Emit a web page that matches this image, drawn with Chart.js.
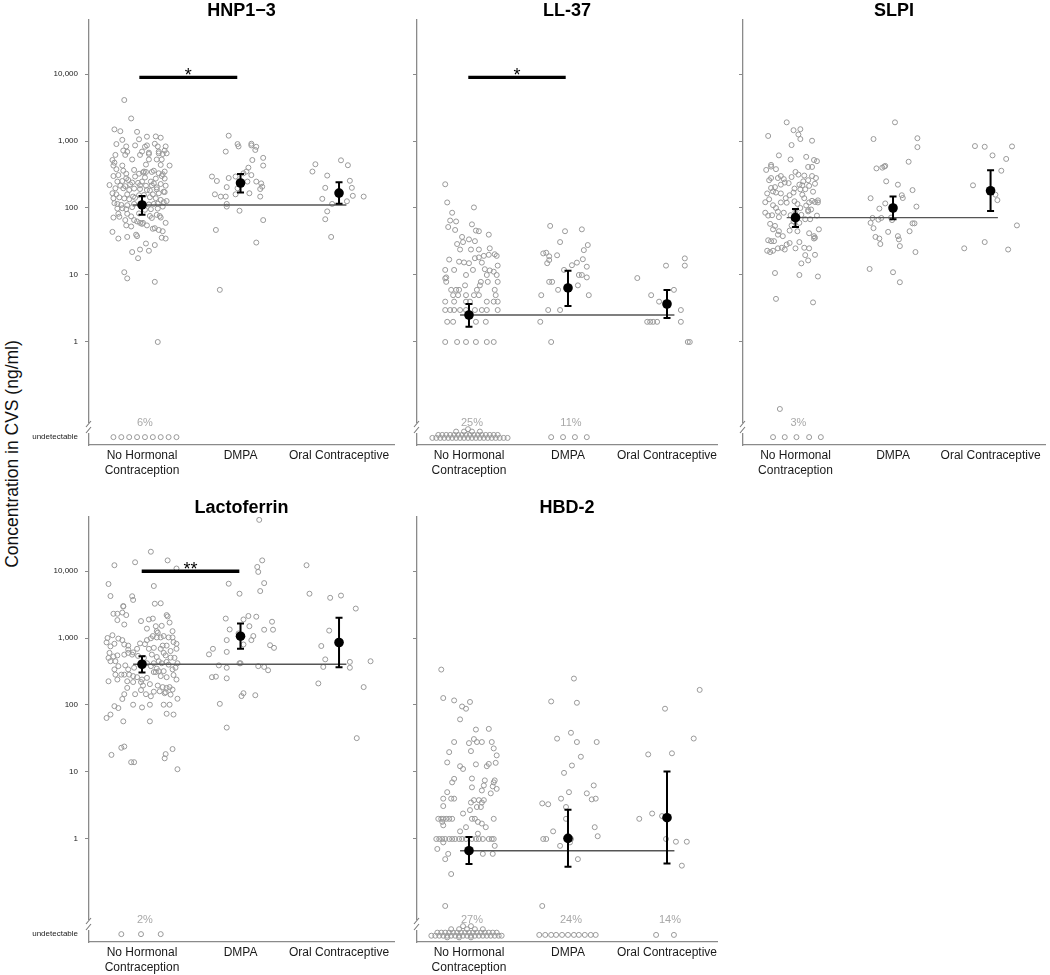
<!DOCTYPE html>
<html>
<head>
<meta charset="utf-8">
<script src="https://cdn.jsdelivr.net/npm/chart.js@4.4.1/dist/chart.umd.min.js"></script>
<style>
  html, body { margin: 0; padding: 0; background: #fff; overflow: hidden; }
  #wrap { position: relative; width: 1050px; height: 975px; }
  #wrap canvas { position: absolute; }
  #ytitle {
    position: absolute; left: 12px; top: 454px;
    transform: translate(-50%, -50%) rotate(-90deg);
    font: 17.5px Arial, "Liberation Sans", sans-serif; color: #111; white-space: nowrap;
  }
</style>
</head>
<body>
<div id="wrap">
  <div id="ytitle">Concentration in CVS (ng/ml)</div>
  <canvas id="c1" width="395" height="480" style="left:19px;top:0px"></canvas>
  <canvas id="c2" width="390" height="480" style="left:347px;top:0px"></canvas>
  <canvas id="c3" width="377" height="480" style="left:673px;top:0px"></canvas>
  <canvas id="c4" width="395" height="480" style="left:19px;top:497px"></canvas>
  <canvas id="c5" width="390" height="480" style="left:347px;top:497px"></canvas>
</div>
<script>
const FONT = "Arial, 'Liberation Sans', Helvetica, sans-serif";

// shared axis text
const categories = [['No Hormonal', 'Contraception'], 'DMPA', 'Oral Contraceptive'];
const UNDET = 0.038;
const tickValues = [UNDET, 1, 10, 100, 1000, 10000];
const tickLabels = ['undetectable', '1', '10', '100', '1,000', '10,000'];

// points are [offset from category centre, concentration ng/ml]
// ---- HNP1-3
const hnpNone = [[-0.18,4090],[-0.11,2170],[-0.28,1490],[-0.22,1400],[-0.05,1370],[-0.20,1040],[0.05,1160],[0.14,1170],[0.19,1120],[-0.03,1060],
  [-0.26,900],[-0.16,830],[-0.07,860],[0.03,820],[0.05,860],[0.13,910],[0.16,830],[0.24,830],
  [-0.19,720],[-0.15,690],[0.00,695],[0.07,670],[0.17,695],[0.23,720],
  [-0.27,620],[-0.17,620],[-0.02,620],[0.07,640],[0.17,655],[0.21,640],[0.25,655],
  [-0.30,520],[-0.10,530],[0.07,530],[0.15,530],[0.20,530],
  [-0.29,430],[-0.28,475],[-0.20,430],[0.04,445],[0.19,440],[0.28,430],
  [-0.26,380],[-0.19,360],[-0.08,370],[0.02,350],[0.12,360],
  [-0.29,300],[-0.24,310],[-0.16,325],[-0.03,325],[0.01,340],[0.04,345],[0.10,345],[0.17,330],[0.21,320],[0.23,350],
  [-0.16,278],[-0.07,295],[0.03,285],[0.14,275],[0.20,300],[0.23,275],
  [-0.25,248],[-0.20,253],[-0.14,262],[-0.10,240],[-0.04,237],[0.00,248],[0.09,248],[0.12,233],[0.19,228],
  [-0.33,220],[-0.22,215],[-0.17,212],[-0.12,225],[-0.02,218],[0.04,215],[0.10,218],[0.15,203],[0.24,215],
  [-0.27,197],[-0.19,197],[-0.13,186],[-0.08,195],[-0.02,192],[0.05,186],[0.08,182],[0.15,190],[0.22,175],
  [-0.30,166],[-0.26,160],[-0.15,160],[-0.09,148],[-0.03,155],[0.02,156],[0.11,160],[0.17,166],[0.23,173],
  [-0.29,140],[-0.23,144],[-0.18,139],[-0.13,135],[-0.07,142],[0.08,145],[0.14,140],[0.19,132],[0.25,127],
  [-0.28,118],[-0.25,115],[-0.21,111],[-0.15,110],[-0.08,115],[0.07,113],[0.12,115],[0.16,116],[0.22,122],
  [-0.25,98],[-0.20,99],[-0.16,96],[-0.10,103],[0.03,94],[0.09,96],[0.16,98],[0.21,105],
  [-0.24,82],[-0.23,74],[-0.15,82],[-0.11,75],[-0.03,83],[0.08,76],[0.15,79],[0.18,76],
  [-0.29,72],[-0.17,66],[-0.08,66],[-0.05,63],[0.01,60],[0.10,71],[0.19,72],[0.24,60],
  [-0.16,55],[-0.11,53],[-0.02,60],[0.00,58],[0.05,55],[0.11,49],[0.17,47],[0.21,45],
  [-0.30,44],[-0.24,35],[-0.15,37],[-0.06,40],[-0.05,38],[0.20,36],[0.24,35],[0.13,50],
  [0.04,29.5],[0.13,28],[-0.10,22],[-0.02,24],[0.07,23],[-0.04,17.8],
  [-0.18,11],[-0.15,8.9],[0.13,7.9],[0.16,1],
  [-0.29,0.038],[-0.21,0.038],[-0.13,0.038],[-0.05,0.038],[0.03,0.038],[0.11,0.038],[0.19,0.038],[0.27,0.038],[0.35,0.038]];
const hnpDmpa = [[-0.12,1200],[-0.03,900],[-0.02,830],[0.11,910],[0.11,860],[0.16,820],[-0.15,695],[0.15,735],[0.23,560],[0.12,520],
  [0.23,430],[0.08,400],[0.06,350],[0.03,330],[-0.05,295],[0.11,310],[-0.29,295],[-0.24,253],[-0.12,280],
  [0.07,248],[0.16,248],[0.21,233],[-0.14,205],[-0.03,197],[0.22,208],[-0.26,160],[-0.20,148],[-0.15,148],[-0.05,160],
  [0.09,166],[0.20,192],[0.20,148],[-0.14,115],[-0.14,105],[-0.01,91],[0.23,66],[-0.25,47],[0.16,30.5],[-0.21,6.0]];
const hnpOral = [[-0.24,450],[0.02,515],[0.09,435],[-0.27,350],[-0.12,305],[0.11,255],[-0.14,200],[0.13,200],[-0.17,137],
  [-0.07,115],[0.14,152],[0.25,148],[0.08,126],[-0.12,89],[-0.14,68],[-0.08,37]];
const hnpMean = [111, 236, 167];
const hnpLow = [79, 171, 116];
const hnpHigh = [151, 322, 242];
const hnpPct = ['6%', '', ''];
const hnpSig = [0.973, 1.967, 8900, '*'];

// ---- LL-37
const llNone = [[-0.24,226],[-0.22,121],[0.05,102],[-0.17,85],[-0.19,65],[-0.13,63],[-0.21,52],[-0.14,47],[0.03,57],[0.07,46],[0.10,45],[0.20,40],
  [-0.07,37],[0,34],[0.06,32],[-0.12,29],[-0.06,31],[-0.09,24],[0.02,24],[0.10,24],[0.21,25],[0.15,19.3],[0.20,20],[0.26,20.4],[0.28,19.3],
  [-0.20,17],[0.06,17.8],[-0.10,15.8],[-0.05,15.4],[0,15],[0.10,18.3],[0.13,15.3],[-0.24,11.9],[-0.15,11.9],[-0.24,8.9],[-0.23,9.2],[-0.23,7.9],
  [0.16,12.2],[0.18,10],[0.21,11.7],[0.28,10],[0.25,11.2],[0.29,13.8],[-0.03,10],[0.04,11.9],[0.19,7.9],[0.29,7.9],[0.12,7.9],
  [-0.18,6],[-0.10,6],[-0.13,6],[0.11,7],[0.08,6],[0.26,6],[-0.04,7],
  [-0.16,5],[-0.11,5],[-0.03,5],[0.05,5],[0.10,5],[0.27,5],
  [-0.24,4],[-0.15,4],[-0.03,4],[0.01,4],[0.18,4],[0.25,4],[0.29,4],
  [-0.24,3],[-0.19,3],[-0.15,3],[-0.09,3],[-0.03,3],[0.06,3],[0.13,3],[0.18,3],[0.29,3],
  [-0.22,2],[-0.16,2],[0.07,2],[0.17,2],
  [-0.24,1],[-0.12,1],[-0.03,1],[0.07,1],[0.18,1],[0.25,1],
  [-0.37,0.037],[-0.33,0.037],[-0.29,0.037],[-0.25,0.037],[-0.21,0.037],[-0.17,0.037],[-0.13,0.037],[-0.09,0.037],[-0.05,0.037],[-0.01,0.037],
  [0.03,0.037],[0.07,0.037],[0.11,0.037],[0.15,0.037],[0.19,0.037],[0.23,0.037],[0.27,0.037],[0.31,0.037],[0.35,0.037],[0.39,0.037],
  [-0.31,0.041],[-0.27,0.041],[-0.23,0.041],[-0.19,0.041],[-0.15,0.041],[-0.11,0.041],[-0.07,0.041],[-0.03,0.041],
  [0.01,0.041],[0.05,0.041],[0.09,0.041],[0.13,0.041],[0.17,0.041],[0.21,0.041],[0.25,0.041],[0.29,0.041],
  [-0.13,0.046],[-0.05,0.046],[0.03,0.046],[0.11,0.046],[-0.01,0.05]];
const llDmpa = [[-0.18,54],[-0.03,45],[0.14,48],[-0.08,31],[0.20,28],[-0.25,21],[-0.22,21.5],[-0.19,19],[-0.11,19.7],[0.16,23.5],
  [-0.21,15],[-0.19,16.7],[0.04,14],[-0.04,11.9],[0.09,15.3],[0.15,17.2],[0.19,13.3],[0.11,10],[0.14,10],[0.19,9.2],
  [-0.19,7.9],[-0.16,7.9],[0.10,7],[-0.10,6],[-0.27,5],[0.21,5],[-0.20,3],[-0.08,3],[-0.28,2],[-0.17,1],
  [-0.17,0.038],[-0.05,0.038],[0.07,0.038],[0.19,0.038]];
const llOral = [[0.18,17.7],[-0.01,13.8],[0.18,13.8],[-0.30,9],[0.07,6],[-0.16,5],[-0.08,4],[0.14,3],
  [-0.20,2],[-0.17,2],[-0.14,2],[-0.10,2],[0.14,2],[0.21,1],[0.23,1]];
const llMean = [2.53, 6.4, 3.69];
const llLow = [1.69, 3.45, 2.28];
const llHigh = [3.69, 11.6, 5.97];
const llPct = ['25%', '11%', ''];
const llSig = [0.993, 1.977, 8900, '*'];

// ---- SLPI
const slpiNone = [[-0.09,1900],[-0.02,1450],[0.05,1500],[0.03,1250],[0.05,1070],[-0.28,1190],[0.17,1010],[-0.04,870],[-0.17,610],
  [0.11,580],[0.19,520],[0.22,500],[-0.05,530],[-0.25,440],[-0.25,415],[0.13,410],[0.17,410],[-0.30,370],[-0.20,380],
  [0,345],[0.03,315],[0.09,305],[0.17,300],[0.21,280],[-0.25,280],[-0.18,280],[-0.15,300],[-0.04,290],[0.13,260],
  [-0.11,240],[-0.07,235],[-0.15,223],[-0.25,199],[-0.21,205],[0.04,223],[0.07,218],[0.14,214],[0.20,230],[0.10,190],[0.05,190],[-0.01,195],
  [-0.29,165],[-0.23,177],[-0.20,170],[-0.15,165],[-0.06,155],[0.07,158],[0.17,128],[0.20,123],[0.23,130],[0.23,121],[0.14,121],
  [-0.31,122],[-0.23,110],[-0.15,121],[-0.09,120],[-0.01,126],[0.02,115],[0.11,109],[0.13,93],[0.05,100],[-0.20,100],
  [-0.31,85],[-0.28,77],[-0.24,78],[-0.18,88],[-0.17,73],[-0.05,78],[0,89],[0.06,79],[0.13,89],[0.22,77],
  [-0.02,63],[0.04,60],[0.15,68],[-0.26,58],[-0.21,54],[-0.06,46],[-0.17,45],[-0.18,40],[-0.13,38],[0.14,42],[0.19,38],[0.24,48],[0.20,36],[0.19,35],
  [-0.28,33],[-0.25,32],[-0.22,32],[-0.06,30],[-0.09,28.5],[0.04,31],[-0.18,25],[-0.14,25.5],[-0.11,24],[0,25],[0.09,25.5],[0.14,25],[0.20,20],
  [-0.29,23],[-0.26,22],[-0.23,23],[0.10,19.8],[0.06,14.9],[0.13,16.5],[0.04,10],[0.23,9.5],[-0.21,10.7],[-0.20,4.4],[0.18,3.9],[-0.16,0.1],
  [-0.27,260],[-0.12,270],[0.08,250],[0.18,175],[-0.02,170],[-0.10,140],[0.09,140],[-0.27,135],[0.16,95],[-0.12,85],[0.10,68],[-0.04,55],[0.02,45],[-0.23,48],
  [-0.23,0.038],[-0.11,0.038],[0.01,0.038],[0.14,0.038],[0.26,0.038]];
const slpiDmpa = [[0.02,1900],[-0.20,1070],[0.25,1100],[0.25,810],[0.16,490],[-0.17,390],[-0.11,400],[-0.09,415],[-0.08,425],[-0.07,250],
  [0.05,223],[0.09,155],[0.10,141],[0.20,185],[-0.23,140],[-0.08,117],[-0.14,98],[-0.21,71],[-0.23,60],[-0.20,50],[-0.15,67],[-0.12,71],
  [-0.01,66],[-0.02,72],[0.24,105],[0.20,59],[0.22,59],[0.17,45],[-0.05,44],[-0.18,37],[-0.14,35],[-0.13,29],[0.05,38],[0.06,34],[0.07,27],
  [0.23,22],[-0.24,12.3],[0,11],[0.07,7.8]];
const slpiOral = [[-0.16,840],[-0.06,820],[0.22,830],[0.02,610],[0.16,540],[0.11,360],[-0.18,218],[0.05,158],[0.07,131],[0.27,55],
  [-0.06,31],[-0.27,25],[0.18,24]];
const slpiMean = [71.8, 100, 181];
const slpiLow = [52, 67.7, 90];
const slpiHigh = [96.6, 149, 365];
const slpiPct = ['3%', '', ''];

// ---- Lactoferrin
const lacNone = [[-0.28,12200],[-0.07,13500],[0.09,19400],[0.26,14400],[0.35,10900],[-0.34,6400],[-0.32,4230],[0.12,5970],[-0.10,4200],[-0.09,3700],
  [-0.19,3000],[-0.19,2950],[0.13,3250],[0.19,3300],
  [-0.29,2300],[-0.25,2300],[-0.20,2400],[-0.16,2200],[-0.25,1850],[-0.18,1590],[-0.01,1790],[0.07,1890],[0.11,1950],[0.25,2200],[0.26,2100],
  [0.05,1380],[0.14,1500],[0.16,1200],[0.20,1520],[0.28,1700],[0.31,1265],[0.15,1265],
  [-0.35,1000],[-0.30,1100],[-0.24,980],[-0.20,930],[-0.36,860],[-0.32,750],[-0.28,820],[-0.18,800],[-0.14,770],
  [-0.02,830],[0.03,810],[0.05,930],[0.09,990],[0.11,1070],[0.15,1020],[0.19,1020],[0.22,1070],[0.27,1020],[0.31,1020],[0.32,870],[0.35,820],
  [0.07,690],[0.12,713],[0.19,690],[0.21,770],[0.25,770],[0.29,640],[0.35,690],[0.22,600],[-0.05,690],[-0.09,610],[-0.14,670],[-0.04,540],
  [-0.33,600],[-0.34,505],[-0.29,530],[-0.25,550],[-0.32,450],[-0.27,450],[-0.18,565],[-0.14,600],[-0.10,565],
  [0.02,505],[0.10,566],[0.15,520],[0.17,450],[0.24,550],[0.29,510],[0.33,505],[0.36,420],[0.05,420],[0.12,420],[0.20,420],[0.25,440],[0.27,400],
  [-0.24,380],[-0.28,340],[-0.17,390],[-0.14,340],[-0.08,360],[0.09,380],[0.15,350],[0.17,320],[0.22,320],[0.31,340],[0.34,360],
  [0.19,270],[0.14,310],[0.25,260],[0.35,240],[0.32,280],
  [-0.34,226],[-0.27,284],[-0.25,240],[-0.21,284],[-0.18,284],[-0.13,284],[-0.09,270],[-0.05,260],[0,240],[0.05,254],[0.12,310],
  [-0.15,226],[-0.09,220],[-0.01,220],[0.01,195],[0.08,205],[0.16,195],[0.21,185],[0.25,180],[0.28,185],[0.31,170],[0.29,143],[0.24,155],[0.18,160],
  [-0.15,180],[-0.18,145],[-0.07,145],[-0.01,167],[0.04,145],[0.09,135],[0.12,158],[0.23,150],[0.36,124],
  [-0.20,123],[-0.09,101],[0,92],[0.08,101],[0.22,101],[0.28,101],[-0.28,96],[-0.24,90],[0.25,74],[0.32,72],[-0.19,57],[0.08,57],[-0.36,64],[-0.32,72],
  [-0.21,23],[-0.18,24],[-0.31,18],[-0.11,14],[-0.08,14],[0.24,18.5],[0.23,16],[0.31,22],[0.36,11],
  [-0.21,0.038],[-0.01,0.038],[0.19,0.038]];
const lacDmpa = [[0.19,58000],[0.22,14400],[0.17,11500],[0.18,9700],[0.24,6600],[0.20,5020],[-0.12,6460],[-0.01,4580],[-0.15,1950],[0.08,2130],
  [0.16,2080],[0.03,1890],[0.32,1750],[-0.11,1340],[-0.02,1170],[0.09,1500],[0.24,1330],[0.33,1330],[0.13,1070],[-0.14,930],[0.11,930],
  [0.03,800],[0.30,780],[0.34,713],[-0.32,570],[-0.28,690],[-0.14,620],[-0.01,420],[0.00,420],[-0.22,390],[-0.29,260],[-0.25,265],
  [-0.14,360],[-0.14,250],[0.18,380],[0.24,370],[0.28,330],[0.01,136],[0.03,150],[0.15,140],[-0.21,104],[-0.14,46]];
const lacOral = [[-0.33,12200],[-0.30,4580],[-0.09,3980],[0.02,4300],[0.17,2750],[-0.10,1290],[-0.18,760],[-0.14,480],[-0.16,370],
  [-0.21,210],[0.11,440],[0.11,360],[0.32,450],[0.25,185],[0.18,32]];
const lacMean = [406, 1064, 857];
const lacLow = [305, 689, 366];
const lacHigh = [535, 1648, 2004];
const lacPct = ['2%', '', ''];
const lacSig = [0.997, 1.988, 9900, '**'];

// ---- HBD-2
const hbdNone = [[-0.28,338],[-0.26,127],[-0.15,117],[0.01,111],[-0.07,95],[-0.03,88],[-0.09,61],[0.07,43],[0.20,44],
  [-0.15,28],[0,27],[0.05,31],[0.08,28],[0.13,28],[0.23,28],[0.25,22.5],[0.28,17.7],
  [-0.20,19.8],[0.02,20.5],[-0.22,13.9],[-0.09,12.2],[-0.06,11.1],[0.07,13],[0.18,12.2],[0.20,13.2],[0.27,13.7],
  [-0.17,7],[-0.15,7.9],[0.03,8],[0.16,7.5],[0.26,7.5],[0.25,7],[0.28,5.6],[0.24,6.1],[0.22,4.8],[0.15,6.3],[0.13,5.3],[0.03,5.9],
  [-0.22,5],[-0.26,4],[-0.18,4],[-0.15,4],[-0.26,3.1],[-0.06,2.4],[0.02,3.5],[0.05,3.8],[0.10,3.8],[0.13,3.5],[0.08,3],[0.12,3],[0.01,2.7],[0.15,3.8],
  [-0.31,2],[-0.28,2],[-0.26,2],[-0.23,2],[-0.20,2],[-0.17,2],[-0.27,1.8],[-0.26,1.6],[0.03,2],[0.06,2],[0.09,1.8],[0.25,2],[0.13,1.7],
  [0.17,1.5],[-0.09,1.3],[-0.03,1.5],[0.09,1.2],
  [-0.33,1],[-0.30,1],[-0.27,1],[-0.24,1],[-0.20,1],[-0.17,1],[-0.14,1],[-0.10,1],[-0.07,1],[-0.03,1],[0.03,1],[0.07,1],[0.10,1],[0.14,1],[0.20,1],[0.23,1],[0.25,1],
  [-0.32,0.71],[-0.26,0.89],[-0.21,0.6],[-0.24,0.5],[0.14,0.6],[0.24,0.6],[0.26,0.79],[-0.18,0.3],[-0.24,0.1],
  [-0.38,0.036],[-0.34,0.036],[-0.30,0.036],[-0.26,0.036],[-0.22,0.036],[-0.18,0.036],[-0.14,0.036],[-0.10,0.036],[-0.06,0.036],[-0.02,0.036],
  [0.02,0.036],[0.06,0.036],[0.10,0.036],[0.14,0.036],[0.18,0.036],[0.22,0.036],[0.26,0.036],[0.30,0.036],[0.33,0.036],
  [-0.32,0.040],[-0.28,0.040],[-0.24,0.040],[-0.20,0.040],[-0.16,0.040],[-0.12,0.040],[-0.08,0.040],[-0.04,0.040],
  [0,0.040],[0.04,0.040],[0.08,0.040],[0.12,0.040],[0.16,0.040],[0.20,0.040],[0.24,0.040],[0.28,0.040],
  [-0.18,0.045],[-0.10,0.045],[-0.02,0.045],[0.06,0.045],[0.14,0.045],[-0.06,0.050],[0.02,0.050],
  [-0.22,0.034],[-0.10,0.034],[0.02,0.034]];
const hbdDmpa = [[0.06,248],[-0.17,113],[0.09,108],[0.03,38.5],[-0.11,31.5],[0.09,28],[0.29,28],[0.13,16.9],[0.04,12.5],[-0.04,9.7],
  [0.01,5],[0.26,6.3],[0.19,4.8],[0.24,3.9],[0.28,4],[-0.07,4],[-0.26,3.4],[-0.20,3.3],[-0.02,3],[-0.02,2],[-0.15,1.3],[0.27,1.5],
  [0.30,1.1],[-0.25,1],[-0.22,1],[0.03,1],[-0.08,0.79],[0.02,0.89],[0.10,0.5],[-0.26,0.1],
  [-0.29,0.037],[-0.23,0.037],[-0.17,0.037],[-0.12,0.037],[-0.06,0.037],[0,0.037],[0.06,0.037],[0.11,0.037],[0.17,0.037],[0.23,0.037],[0.28,0.037]];
const hbdOral = [[0.33,168],[-0.02,88],[0.27,31.6],[-0.19,18.3],[0.05,19],[-0.15,2.4],[-0.28,2],[-0.05,2.2],[-0.01,1],[0.09,0.91],
  [0.20,0.91],[0.15,0.4],[-0.11,0.037],[0.07,0.037]];
const hbdMean = [0.669, 1.02, 2.08];
const hbdLow = [0.423, 0.386, 0.432];
const hbdHigh = [1.07, 2.72, 10.2];
const hbdPct = ['27%', '24%', '14%'];

const panels = [
  { id: 'c1', title: 'HNP1\u22123', groups: [hnpNone, hnpDmpa, hnpOral], mean: hnpMean, low: hnpLow, high: hnpHigh, pct: hnpPct, sig: hnpSig, labels: true, xMin: 0.462, xMax: 3.558, padR: 20 },
  { id: 'c2', title: 'LL-37', groups: [llNone, llDmpa, llOral], mean: llMean, low: llLow, high: llHigh, pct: llPct, sig: llSig, labels: false, xMin: 0.475, xMax: 3.505, padR: 20 },
  { id: 'c3', title: 'SLPI', groups: [slpiNone, slpiDmpa, slpiOral], mean: slpiMean, low: slpiLow, high: slpiHigh, pct: slpiPct, sig: null, labels: false, xMin: 0.462, xMax: 3.558, padR: 2 },
  { id: 'c4', title: 'Lactoferrin', groups: [lacNone, lacDmpa, lacOral], mean: lacMean, low: lacLow, high: lacHigh, pct: lacPct, sig: lacSig, labels: true, xMin: 0.462, xMax: 3.558, padR: 20 },
  { id: 'c5', title: 'HBD-2', groups: [hbdNone, hbdDmpa, hbdOral], mean: hbdMean, low: hbdLow, high: hbdHigh, pct: hbdPct, sig: null, labels: false, xMin: 0.475, xMax: 3.505, padR: 20 },
];

// error bars, stars, percentages and the axis break
function extras(p) {
  return {
    id: 'extras',
    afterDatasetsDraw(chart) {
      const { ctx, chartArea } = chart;
      const xs = chart.scales.x, ys = chart.scales.y;
      ctx.save();

      ctx.strokeStyle = '#000';
      ctx.lineWidth = 2;
      p.low.forEach((lo, i) => {
        const px = xs.getPixelForValue(i + 1);
        const a = ys.getPixelForValue(lo), b = ys.getPixelForValue(p.high[i]);
        ctx.beginPath();
        ctx.moveTo(px, a); ctx.lineTo(px, b);
        ctx.moveTo(px - 3.5, a); ctx.lineTo(px + 3.5, a);
        ctx.moveTo(px - 3.5, b); ctx.lineTo(px + 3.5, b);
        ctx.stroke();
      });

      if (p.sig) {
        ctx.fillStyle = '#000';
        ctx.font = '18px ' + FONT;
        ctx.textAlign = 'center';
        ctx.textBaseline = 'alphabetic';
        const mx = xs.getPixelForValue((p.sig[0] + p.sig[1]) / 2);
        ctx.fillText(p.sig[3], mx, ys.getPixelForValue(p.sig[2]) + 3.5);
      }

      ctx.fillStyle = '#a8a8a8';
      ctx.font = '11px ' + FONT;
      ctx.textAlign = 'center';
      ctx.textBaseline = 'middle';
      p.pct.forEach((t, i) => {
        if (t) ctx.fillText(t, xs.getPixelForValue(i + 1.03), ys.getPixelForValue(0.0625));
      });

      // "//" break on the y axis
      const ax = chartArea.left;
      const by = ys.getPixelForValue(0.052);
      ctx.fillStyle = '#fff';
      ctx.fillRect(ax - 2, by - 5, 4, 10);
      ctx.strokeStyle = '#7a7a7a';
      ctx.lineWidth = 1.1;
      ctx.beginPath();
      ctx.moveTo(ax - 3, by - 1); ctx.lineTo(ax + 2, by - 7);
      ctx.moveTo(ax - 3, by + 5); ctx.lineTo(ax + 2, by - 1);
      ctx.stroke();
      ctx.restore();
    }
  };
}

function makePanel(p) {
  const datasets = [
    { label: 'mean', data: p.mean.map((m, i) => ({ x: i + 1, y: m })),
      pointRadius: 4.8, pointBackgroundColor: '#000', pointBorderColor: '#000', pointBorderWidth: 0 },
    { label: 'reference', data: [{ x: 0.91, y: p.mean[0] }, { x: 3.075, y: p.mean[0] }],
      showLine: true, borderColor: '#555', borderWidth: 1.4, pointRadius: 0 },
  ];
  if (p.sig) {
    datasets.push({ label: 'sig', data: [{ x: p.sig[0], y: p.sig[2] }, { x: p.sig[1], y: p.sig[2] }],
      showLine: true, borderColor: '#000', borderWidth: 3.4, pointRadius: 0 });
  }
  p.groups.forEach((g, gi) => {
    datasets.push({
      label: String(categories[gi]),
      data: g.map(([dx, v]) => ({ x: gi + 1 + dx, y: v })),
      pointRadius: 2.5, pointBorderWidth: 1,
      pointBorderColor: '#999', pointBackgroundColor: 'rgba(255,255,255,0)'
    });
  });

  new Chart(document.getElementById(p.id), {
    type: 'scatter',
    data: { datasets },
    plugins: [extras(p)],
    options: {
      responsive: false,
      animation: false,
      events: [],
      layout: { padding: { left: 0, right: p.padR, top: 0, bottom: 0 } },
      plugins: {
        legend: { display: false },
        tooltip: { enabled: false },
        title: {
          display: true, text: p.title, fullSize: false, color: '#000',
          font: { family: FONT, size: 18, weight: 'bold', lineHeight: 1.0 },
          padding: { top: 2, bottom: 0 }
        }
      },
      scales: {
        x: {
          type: 'linear', min: p.xMin, max: p.xMax,
          afterBuildTicks: s => { s.ticks = [1, 2, 3].map(v => ({ value: v })); },
          afterFit: s => { s.height = 35; },
          ticks: {
            callback: v => categories[v - 1],
            font: { family: FONT, size: 12, lineHeight: 1.25 },
            color: '#1a1a1a', padding: 3, maxRotation: 0, autoSkip: false
          },
          grid: { display: false, drawTicks: false },
          border: { display: true, color: '#8a8a8a', width: 1.3 }
        },
        y: {
          type: 'logarithmic', min: 0.029, max: 64000,
          afterBuildTicks: s => { s.ticks = tickValues.map(v => ({ value: v })); },
          afterFit: s => { s.width = 70; },
          ticks: {
            callback: (v, i) => p.labels ? tickLabels[i] : '',
            font: { family: FONT, size: 8 }, color: '#222', padding: 7, autoSkip: false
          },
          grid: {
            drawOnChartArea: false, drawTicks: true, tickLength: 4, lineWidth: 1,
            tickColor: c => (c.tick && c.tick.value === UNDET) ? 'rgba(0,0,0,0)' : '#8a8a8a'
          },
          border: { display: true, color: '#8a8a8a', width: 1.3 }
        }
      }
    }
  });
}

panels.forEach(makePanel);
</script>
</body>
</html>
